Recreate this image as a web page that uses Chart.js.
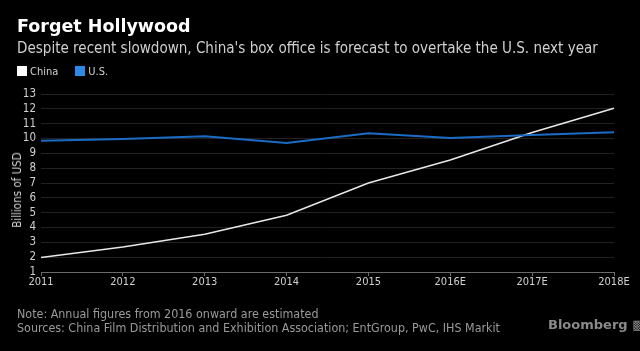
<!DOCTYPE html>
<html>
<head>
<meta charset="utf-8">
<script src="https://cdn.jsdelivr.net/npm/chart.js@4/dist/chart.umd.min.js"></script>
<style>
  html, body { margin:0; padding:0; background:#000; width:640px; height:351px; overflow:hidden; }
  #wrap { position:relative; width:640px; height:351px; }
  canvas { position:absolute; left:0; top:0; }
  .t { position:absolute; white-space:nowrap; }
  #title { left:17px; top:15px; font:bold 17.5px "DejaVu Sans"; color:#fff; line-height:22px; }
  #sub { left:17px; top:39px; font:15.05px "DejaVu Sans Condensed", "DejaVu Sans"; color:#d0d0d0; line-height:18px; }
  #leg { left:17px; top:65px; font:11px "DejaVu Sans Condensed", "DejaVu Sans"; color:#d0d0d0; line-height:14px; }
  .sw { display:inline-block; width:10px; height:10px; vertical-align:-1px; margin-right:3px; }
  #ylab { left:17px; top:190px; font:11.5px "DejaVu Sans Condensed", "DejaVu Sans"; color:#d0d0d0; transform:translate(-50%,-50%) rotate(-90deg); }
  #note { left:17px; top:307px; font:12.4px "DejaVu Sans Condensed", "DejaVu Sans"; color:#9a9a9a; line-height:14px; }
  #bb { left:548px; top:317px; font:bold 13px "DejaVu Sans"; color:#8a8a8a; }
</style>
</head>
<body>
<div id="wrap">
<canvas id="c" width="640" height="351"></canvas>
<div class="t" id="title">Forget Hollywood</div>
<div class="t" id="sub">Despite recent slowdown, China's box office is forecast to overtake the U.S. next year</div>
<div class="t" id="leg"><span class="sw" style="background:#ffffff"></span>China<span style="display:inline-block;width:17px"></span><span class="sw" style="background:#2b8ae6"></span>U.S.</div>
<div class="t" id="ylab">Billions of USD</div>
<div class="t" id="note">Note: Annual figures from 2016 onward are estimated<br>Sources: China Film Distribution and Exhibition Association; EntGroup, PwC, IHS Markit</div>
<div class="t" id="bb">Bloomberg &#9641;</div>
</div>
<script>
const categories = ["2011","2012","2013","2014","2015","2016E","2017E","2018E"];
const chinaValues = [1.97, 2.69, 3.55, 4.83, 7.0, 8.55, 10.4, 12.04];
const usValues = [9.85, 9.97, 10.15, 9.7, 10.35, 10.03, 10.24, 10.42];
const yTicks = [1,2,3,4,5,6,7,8,9,10,11,12,13];

new Chart(document.getElementById('c'), {
  type: 'line',
  data: {
    labels: categories,
    datasets: [
      { label: 'U.S.', data: usValues, borderColor: '#1a6cc4', borderWidth: 2, pointRadius: 0, tension: 0, fill: false },
      { label: 'China', data: chinaValues, borderColor: '#e8e8e8', borderWidth: 1.5, pointRadius: 0, tension: 0, fill: false }
    ]
  },
  options: {
    responsive: false,
    animation: false,
    events: [],
    layout: { padding: { left: 0, top: 94, right: 26, bottom: 59 } },
    plugins: { legend: { display: false }, tooltip: { enabled: false }, title: { display: false } },
    scales: {
      x: {
        type: 'category',
        offset: false,
        afterFit: s => { s.height = 20; },
        border: { display: true, color: '#6a6a6a', width: 1 },
        grid: { display: true, drawOnChartArea: false, drawTicks: true, tickLength: 4, color: '#6a6a6a' },
        ticks: { color: '#d0d0d0', font: { family: 'DejaVu Sans Condensed', size: 11 }, padding: 0, maxRotation: 0, autoSkip: false }
      },
      y: {
        min: 1, max: 13,
        afterFit: s => { s.width = 41; },
        afterBuildTicks: s => { s.ticks = yTicks.map(v => ({ value: v })); },
        border: { display: false },
        grid: { color: '#222222', lineWidth: 1, drawTicks: false },
        ticks: { color: '#d0d0d0', font: { family: 'DejaVu Sans Condensed', size: 11.5 }, padding: 5, autoSkip: false }
      }
    }
  }
});
</script>
</body>
</html>
